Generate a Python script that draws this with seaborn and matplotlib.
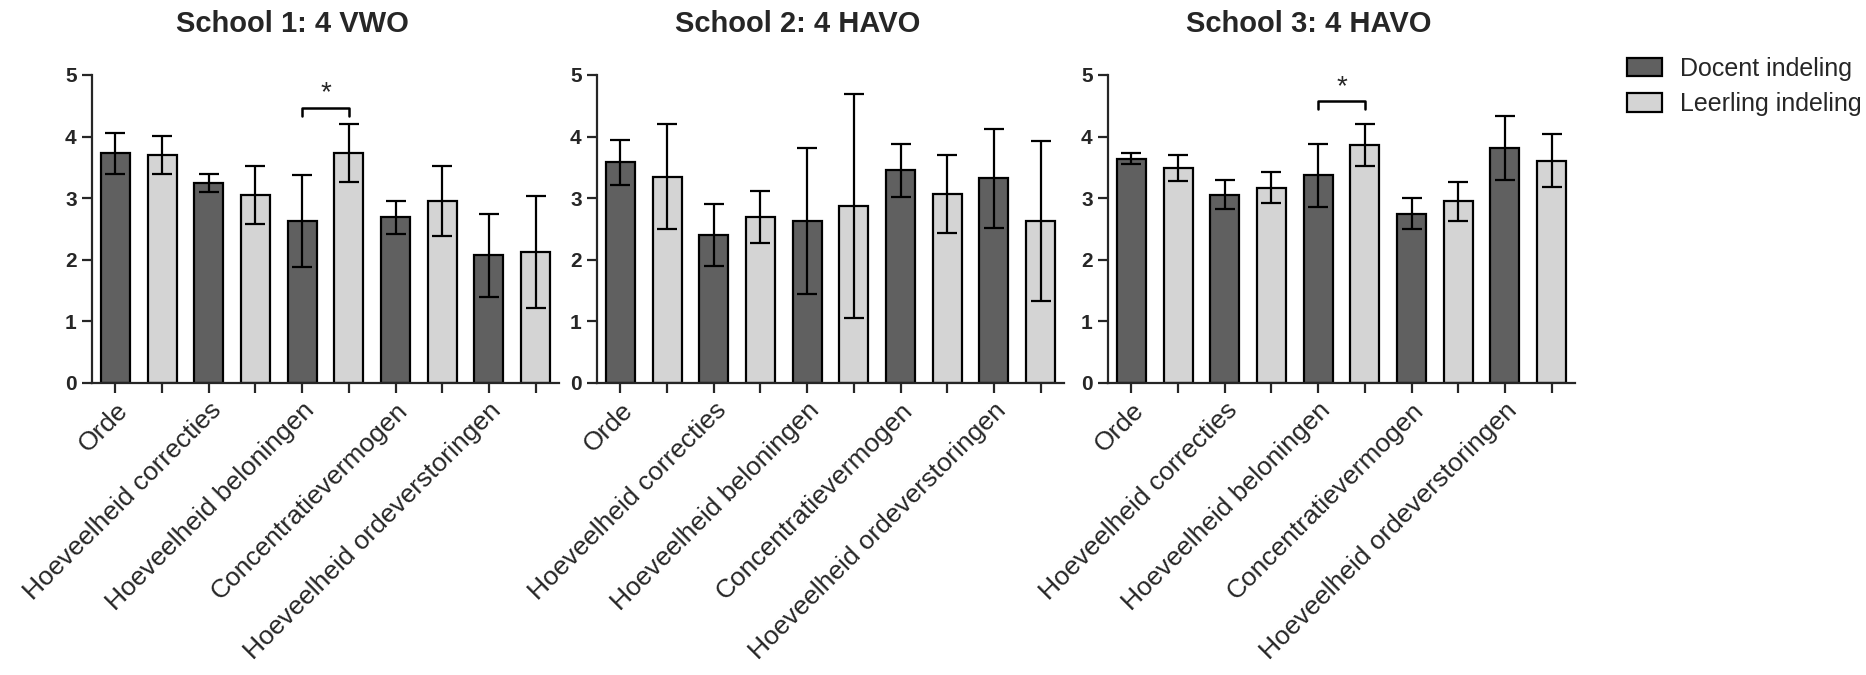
import matplotlib
matplotlib.use("Agg")
import matplotlib.pyplot as plt
import pandas as pd
import seaborn as sns
from matplotlib.transforms import ScaledTranslation

CATEGORIES = [
    "Orde",
    "Hoeveelheid correcties",
    "Hoeveelheid beloningen",
    "Concentratievermogen",
    "Hoeveelheid ordeverstoringen",
]
GROUPS = ["Docent indeling", "Leerling indeling"]
TITLES = ["School 1: 4 VWO", "School 2: 4 HAVO", "School 3: 4 HAVO"]

s1_docent = [3.73, 3.25, 2.63, 2.69, 2.07]
s1_docent_err = [0.33, 0.15, 0.74, 0.27, 0.68]
s1_leerling = [3.70, 3.05, 3.74, 2.95, 2.13]
s1_leerling_err = [0.31, 0.47, 0.47, 0.57, 0.91]

s2_docent = [3.58, 2.40, 2.63, 3.45, 3.32]
s2_docent_err = [0.37, 0.50, 1.19, 0.43, 0.80]
s2_leerling = [3.35, 2.70, 2.87, 3.07, 2.63]
s2_leerling_err = [0.85, 0.42, 1.82, 0.63, 1.30]

s3_docent = [3.64, 3.06, 3.37, 2.75, 3.81]
s3_docent_err = [0.09, 0.23, 0.51, 0.25, 0.52]
s3_leerling = [3.49, 3.17, 3.86, 2.95, 3.61]
s3_leerling_err = [0.21, 0.25, 0.34, 0.32, 0.43]

SCHOOLS = [
    (s1_docent, s1_docent_err, s1_leerling, s1_leerling_err),
    (s2_docent, s2_docent_err, s2_leerling, s2_leerling_err),
    (s3_docent, s3_docent_err, s3_leerling, s3_leerling_err),
]

# significant pairs: (school index, category index, bracket height)
SIGNIFICANT = [(0, 2, 4.47), (2, 2, 4.57)]

sns.set_style("ticks")
plt.rcParams["font.family"] = ["Liberation Sans", "DejaVu Sans"]

palette = {"Docent indeling": "#606060", "Leerling indeling": "#d4d4d4"}

fig = plt.figure(figsize=(18.66, 6.75), dpi=100)
lefts = [92 / 1866, 597 / 1866, 1108 / 1866]
bottom = 1 - 383 / 675
height = (383 - 75) / 675
width = 467 / 1866

for s, (dm, de, lm, le) in enumerate(SCHOOLS):
    ax = fig.add_axes([lefts[s], bottom, width, height])
    rows = []
    for i, cat in enumerate(CATEGORIES):
        rows.append({"slot": f"{cat} D", "group": GROUPS[0], "mean": dm[i], "err": de[i]})
        rows.append({"slot": f"{cat} L", "group": GROUPS[1], "mean": lm[i], "err": le[i]})
    df = pd.DataFrame(rows)

    sns.barplot(
        data=df,
        x="slot",
        y="mean",
        hue="group",
        hue_order=GROUPS,
        order=df["slot"].tolist(),
        palette=palette,
        dodge=False,
        width=0.62,
        edgecolor="black",
        linewidth=1.6,
        errorbar=None,
        legend=(s == 2),
        ax=ax,
    )
    ax.errorbar(
        range(len(df)),
        df["mean"],
        yerr=df["err"],
        fmt="none",
        ecolor="black",
        elinewidth=1.6,
        capsize=7,
        capthick=1.6,
        zorder=3,
    )

    # significance bracket
    for sc, ci, top in SIGNIFICANT:
        if sc != s:
            continue
        x0, x1 = 2 * ci, 2 * ci + 1
        ax.plot([x0, x0, x1, x1], [top - 0.13, top, top, top - 0.13], color="black", lw=1.8)
        ax.text((x0 + x1) / 2, top + 0.02, "*", ha="center", va="bottom", fontsize=20)

    ax.set_xlim(-0.5, 9.5)
    ax.set_ylim(0, 5)
    ax.set_yticks(range(6))
    ax.set_yticklabels([str(v) for v in range(6)], fontsize=15, fontweight="bold")
    ax.set_xticks(range(10))
    labels = []
    for cat in CATEGORIES:
        labels += [cat, ""]
    ax.set_xticklabels(labels, rotation=45, ha="right", va="top",
                       rotation_mode="anchor", fontsize=19)
    shift = ScaledTranslation(15 / 100, 6 / 100, fig.dpi_scale_trans)
    for lab in ax.get_xticklabels():
        lab.set_transform(lab.get_transform() + shift)
    ax.tick_params(axis="both", direction="out", length=7, width=1.6, pad=4)
    ax.set_xlabel("")
    ax.set_ylabel("")
    for side in ["left", "bottom"]:
        ax.spines[side].set_linewidth(1.6)
    sns.despine(ax=ax)
    ax.text(0.43, 1.12, TITLES[s], transform=ax.transAxes, ha="center", va="bottom",
            fontsize=21, fontweight="bold")

    if s == 2:
        handles, lbls = ax.get_legend_handles_labels()
        ax.get_legend().remove()
        fig.legend(
            handles, lbls,
            loc="upper left",
            bbox_to_anchor=(1627 / 1866, 1 - 57 / 675),
            frameon=False,
            fontsize=18,
            handlelength=1.4,
            handleheight=0.75,
            handletextpad=0.7,
            labelspacing=0.45,
            borderpad=0,
            borderaxespad=0,
        )

fig.savefig("out.png", dpi=100)
